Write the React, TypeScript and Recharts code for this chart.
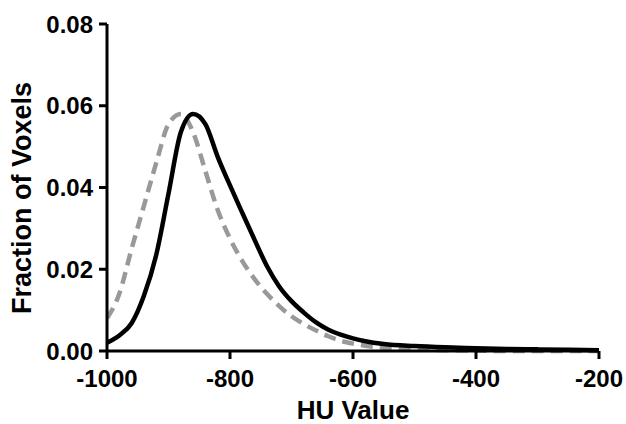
import React from 'react';
import { LineChart, Line, XAxis, YAxis, Label } from 'recharts';

// HU sample points shared by both curves
const huValues = [
  -1000, -980, -960, -940, -920, -900, -880, -860, -840, -820, -800, -780,
  -760, -740, -720, -700, -680, -660, -640, -620, -600, -580, -550, -500,
  -450, -400, -350, -300, -250, -200,
];

// solid black curve
const fractionSolid = [
  0.002, 0.0038, 0.0068, 0.0135, 0.0235, 0.0385, 0.0535, 0.058, 0.0555,
  0.0475, 0.0405, 0.0338, 0.0272, 0.0208, 0.0158, 0.0122, 0.0094, 0.007,
  0.0052, 0.004, 0.0031, 0.0024, 0.0017, 0.0012, 0.0009, 0.0007, 0.0005,
  0.0004, 0.0003, 0.0002,
];

// dashed grey curve
const fractionDashed = [
  0.008, 0.014, 0.025, 0.0355, 0.046, 0.0555, 0.058, 0.0535, 0.044, 0.0345,
  0.0275, 0.022, 0.0176, 0.014, 0.011, 0.0085, 0.0066, 0.005, 0.0036, 0.0025,
  0.0018, 0.0013, 0.0008, 0.0004, 0.0002, 0.0001, 0, 0, 0, 0,
];

const xTicks = [-1000, -800, -600, -400, -200];
const yTicks = [0, 0.02, 0.04, 0.06, 0.08];

const solidData = huValues.map((hu, i) => ({ hu, frac: fractionSolid[i] }));
const dashedData = huValues.map((hu, i) => ({ hu, frac: fractionDashed[i] }));

const FONT = 'Liberation Sans, Arial, Helvetica, sans-serif';

const YTitle = () => (
  <text
    transform="translate(31, 198) rotate(-90)"
    textAnchor="middle"
    fill="#000"
    fontSize={27}
    fontWeight={700}
    fontFamily={FONT}
  >
    Fraction of Voxels
  </text>
);

export default function App() {
  return (
    <div style={{ position: 'absolute', left: 0, top: 0, width: 626, height: 424, background: '#fff' }}>
      <LineChart
        width={626}
        height={424}
        margin={{ top: 24, right: 27, bottom: 0, left: 0 }}
      >
        <XAxis
          dataKey="hu"
          type="number"
          domain={[-1000, -200]}
          ticks={xTicks}
          allowDataOverflow
          height={73}
          stroke="#000"
          strokeWidth={3}
          tickSize={8}
          tickMargin={11}
          tick={{ fill: '#000', fontSize: 24, fontWeight: 700, fontFamily: FONT }}
          label={{
            value: 'HU Value',
            position: 'insideBottom',
            offset: 5,
            style: { fill: '#000', fontSize: 26, fontWeight: 700, fontFamily: FONT },
          }}
        />
        <YAxis
          type="number"
          domain={[0, 0.08]}
          ticks={yTicks}
          tickFormatter={(v: number) => v.toFixed(2)}
          width={107}
          stroke="#000"
          strokeWidth={3}
          tickSize={8}
          tickMargin={6}
          tick={{ fill: '#000', fontSize: 24, fontWeight: 700, fontFamily: FONT }}
        >
          <Label content={<YTitle />} />
        </YAxis>
        <Line
          data={dashedData}
          dataKey="frac"
          type="monotone"
          stroke="#999999"
          strokeWidth={4.5}
          strokeDasharray="12 7"
          dot={false}
          isAnimationActive={false}
        />
        <Line
          data={solidData}
          dataKey="frac"
          type="monotone"
          stroke="#000"
          strokeWidth={4.5}
          dot={false}
          isAnimationActive={false}
        />
      </LineChart>
    </div>
  );
}
